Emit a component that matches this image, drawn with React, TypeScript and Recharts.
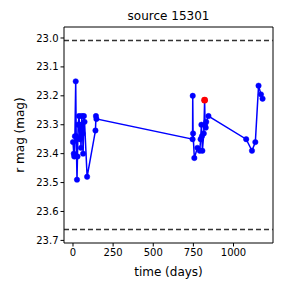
import React from 'react';
import { ComposedChart, Line, Scatter, XAxis, YAxis, ReferenceLine } from 'recharts';

const times = [0, 5, 8, 12, 17, 20, 25, 28, 32, 38, 42, 45, 50, 55, 60, 63, 68, 72, 88, 140, 143, 146,
  745, 746, 748, 756, 775, 790, 795, 800, 803, 806, 815, 820, 823, 827, 830, 844,
  1079, 1115, 1136, 1156, 1171, 1181];
const mags = [23.36, 23.40, 23.41, 23.34, 23.15, 23.34, 23.49, 23.41, 23.30, 23.27, 23.35, 23.30, 23.38, 23.27, 23.33, 23.40, 23.27, 23.29, 23.48, 23.32, 23.27, 23.28,
  23.35, 23.20, 23.33, 23.415, 23.38, 23.39, 23.35, 23.30, 23.34, 23.39, 23.33, 23.215, 23.30, 23.31, 23.29, 23.27,
  23.35, 23.39, 23.36, 23.165, 23.195, 23.21];
const highlightTime = [820];
const highlightMag = [23.215];
const limitLines = [23.009, 23.662];
const xTicks = [0, 250, 500, 750, 1000];
const yTicks = [23.0, 23.1, 23.2, 23.3, 23.4, 23.5, 23.6, 23.7];
const xDomain = [-56, 1246];
const yDomain = [22.962, 23.709];
const title = 'source 15301';
const xLabel = 'time (days)';
const yLabel = 'r mag (mag)';

const data = times.map((t, i) => ({ t, m: mags[i] }));
const highlight = highlightTime.map((t, i) => ({ t, m: highlightMag[i] }));

const FONT = '"DejaVu Sans", sans-serif';
const BLUE = '#0000ff';

export default function App() {
  return (
    <div style={{ position: 'absolute', left: 0, top: 0, width: 288, height: 288, background: '#fff', fontFamily: FONT }}>
      <div style={{ position: 'absolute', left: 64, width: 209, top: 9, textAlign: 'center', fontSize: 12, color: '#000', lineHeight: '14px' }}>
        {title}
      </div>
      <ComposedChart width={288} height={288} data={data} margin={{ top: 27, right: 15, left: 0, bottom: 0 }}>
        <XAxis
          dataKey="t"
          type="number"
          domain={xDomain}
          ticks={xTicks}
          allowDataOverflow
          height={45}
          axisLine={{ stroke: '#000', strokeWidth: 1 }}
          tickLine={{ stroke: '#000' }}
          tickSize={3.5}
          tick={{ fill: '#000', fontSize: 10, fontFamily: FONT }}
          label={{ value: xLabel, position: 'insideBottom', offset: 12, fill: '#000', fontSize: 12, fontFamily: FONT }}
        />
        <YAxis
          type="number"
          domain={yDomain}
          reversed
          ticks={yTicks}
          allowDataOverflow
          width={64}
          axisLine={{ stroke: '#000', strokeWidth: 1 }}
          tickLine={{ stroke: '#000' }}
          tickSize={3.5}
          tickFormatter={(v: number) => v.toFixed(1)}
          tick={{ fill: '#000', fontSize: 10, fontFamily: FONT }}
          label={{ value: yLabel, angle: -90, position: 'insideLeft', offset: 20, fill: '#000', fontSize: 12, fontFamily: FONT, style: { textAnchor: 'middle' } }}
        />
        <ReferenceLine y={yDomain[0]} stroke="#000" strokeWidth={1} ifOverflow="visible" />
        <ReferenceLine x={xDomain[1]} stroke="#000" strokeWidth={1} ifOverflow="visible" />
        {limitLines.map((v) => (
          <ReferenceLine key={v} y={v} stroke="#333" strokeWidth={1.5} strokeDasharray="5 3" ifOverflow="extendDomain" />
        ))}
        <Line
          dataKey="m"
          type="linear"
          stroke={BLUE}
          strokeWidth={1.5}
          dot={{ r: 2.7, fill: BLUE, stroke: BLUE, strokeWidth: 0.5 }}
          isAnimationActive={false}
        />
        <Scatter data={highlight} dataKey="m" fill="#ff0000" shape={(p: any) => <circle cx={p.cx} cy={p.cy} r={3.3} fill="#ff0000" />} isAnimationActive={false} />
      </ComposedChart>
    </div>
  );
}
